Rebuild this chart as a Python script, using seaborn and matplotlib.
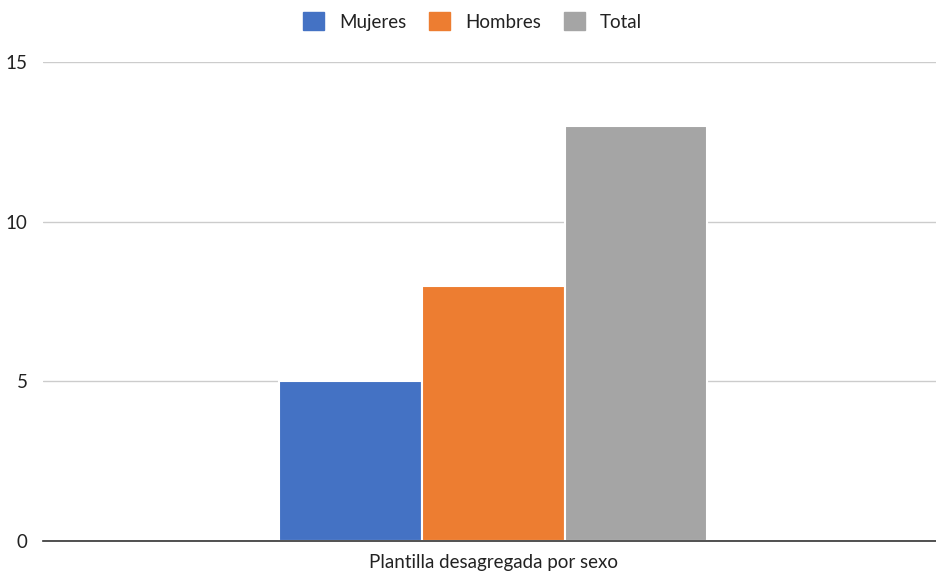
import numpy as np
import pandas as pd
import matplotlib.pyplot as plt
import seaborn as sns

sns.set_style('white')
plt.rcParams['font.family'] = ['Lato', 'DejaVu Sans']

# datos
categoria = ['Plantilla desagregada por sexo']
series = ['Mujeres', 'Hombres', 'Total']
valores = [5, 8, 13]
colores = ['#4472C4', '#ED7D31', '#A5A5A5']

df = pd.DataFrame({'grupo': categoria * len(series), 'serie': series, 'valor': valores})

fig = plt.figure(figsize=(9.36, 5.75), dpi=100)
ax = fig.add_axes([0.046, 0.059, 0.954, 0.833])

sns.barplot(data=df, x='grupo', y='valor', hue='serie', hue_order=series,
            palette=colores, width=0.48, edgecolor='white', linewidth=1.5,
            saturation=1, ax=ax)

ax.set_xlim(-0.504, 0.496)
ax.set_ylim(0, 15)
ax.set_yticks([0, 5, 10, 15])
ax.yaxis.grid(True, color='#CCCCCC', linewidth=1)
ax.set_axisbelow(True)
for s in ['top', 'right', 'left']:
    ax.spines[s].set_visible(False)
ax.spines['bottom'].set_color('#333333')
ax.spines['bottom'].set_linewidth(1.2)
ax.tick_params(axis='y', length=0, labelsize=13.5, colors='#222222', pad=11)
ax.tick_params(axis='x', length=0, labelsize=13.5, colors='#222222', pad=9)
ax.set_xlabel('')
ax.set_ylabel('')

ax.legend_.remove()
handles = [plt.Rectangle((0, 0), 1, 1, color=c) for c in colores]
fig.legend(handles, series, loc='upper center', bbox_to_anchor=(0.505, 1.008), ncol=3,
           frameon=False, fontsize=13.5, handlelength=1.1, handleheight=1.1,
           columnspacing=1.25, handletextpad=0.8, labelcolor='#222222')

plt.savefig('out.png', dpi=100)
